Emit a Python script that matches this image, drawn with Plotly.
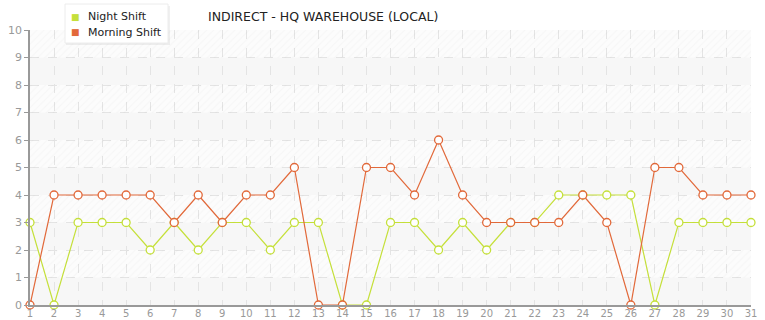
import plotly.graph_objects as go

days = list(range(1, 32))
night_shift = [3, 0, 3, 3, 3, 2, 3, 2, 3, 3, 2, 3, 3, 0, 0, 3, 3, 2, 3, 2, 3, 3, 4, 4, 4, 4, 0, 3, 3, 3, 3]
morning_shift = [0, 4, 4, 4, 4, 4, 3, 4, 3, 4, 4, 5, 0, 0, 5, 5, 4, 6, 4, 3, 3, 3, 3, 4, 3, 0, 5, 5, 4, 4, 4]
y_ticks = list(range(0, 11))
series_names = ["Night Shift", "Morning Shift"]
title_text = "INDIRECT - HQ WAREHOUSE (LOCAL)"

night_color = "#c5e03a"
morning_color = "#e2693a"
font_family = "DejaVu Sans, Verdana, sans-serif"

W, H = 765, 320
ML, MR, MT, MB = 30, 14, 30, 15
PW, PH = W - ML - MR, H - MT - MB


def px(xp):
    return (xp - ML) / PW


def py(yp):
    return (H - MB - yp) / PH


fig = go.Figure()

# hatched background bands
band_bases = [1, 3, 5, 7, 9]
fig.add_trace(go.Bar(
    x=[0.5] * len(band_bases), y=[1] * len(band_bases), base=band_bases,
    width=1, xaxis="x2", yaxis="y", showlegend=False, hoverinfo="skip",
    marker=dict(color="rgba(0,0,0,0)", line=dict(width=0),
                pattern=dict(shape="/", fgcolor="rgba(0,0,0,0.05)",
                             bgcolor="rgba(0,0,0,0)", size=5, solidity=0.2)),
))
for b in [0, 2, 4, 6, 8]:
    fig.add_shape(type="rect", xref="x domain", yref="y", x0=0, x1=1, y0=b, y1=b + 1,
                  fillcolor="#f7f7f7", line_width=0, layer="below")

for vals, name, col in [(night_shift, series_names[0], night_color),
                        (morning_shift, series_names[1], morning_color)]:
    fig.add_trace(go.Scatter(
        x=days, y=vals, mode="lines+markers", name=name, showlegend=False,
        line=dict(color=col, width=1.2), cliponaxis=False,
        marker=dict(symbol="circle", size=8, color="white", line=dict(color=col, width=1.3)),
    ))

# manual legend box (shadow + box)
fig.add_shape(type="rect", xref="paper", yref="paper",
              x0=px(66), x1=px(170), y0=py(45), y1=py(6),
              fillcolor="rgba(0,0,0,0.06)", line_width=0, layer="above")
fig.add_shape(type="rect", xref="paper", yref="paper",
              x0=px(65), x1=px(168), y0=py(43), y1=py(4),
              fillcolor="white", line=dict(color="#ececec", width=1), layer="above")

annotations = [dict(text=title_text, xref="paper", yref="paper", x=px(323), y=py(17),
                    xanchor="center", yanchor="middle", showarrow=False,
                    font=dict(family=font_family, size=12.5, color="#222"))]
for i, (name, col) in enumerate(zip(series_names, [night_color, morning_color])):
    yc = 17 + 15 * i
    annotations.append(dict(text="■", xref="paper", yref="paper", x=px(75), y=py(yc),
                            xanchor="center", yanchor="middle", showarrow=False,
                            font=dict(family=font_family, size=9, color=col)))
    annotations.append(dict(text=name, xref="paper", yref="paper", x=px(86), y=py(yc),
                            xanchor="left", yanchor="middle", showarrow=False,
                            font=dict(family=font_family, size=11, color="#222")))

fig.update_layout(
    width=W, height=H,
    margin=dict(l=ML, r=MR, t=MT, b=MB, autoexpand=False),
    paper_bgcolor="white", plot_bgcolor="#fcfcfc",
    font=dict(family=font_family, size=10, color="#999"),
    showlegend=False,
    xaxis=dict(range=[1, 31], tickmode="array", tickvals=days, ticktext=[str(d) for d in days],
               showgrid=True, gridcolor="#e4e4e4", griddash="dash", gridwidth=1,
               showline=True, linecolor="#999", linewidth=1.5, zeroline=False,
               ticks="", ticklabelstandoff=-2, automargin=False,
               tickfont=dict(size=10, color="#999")),
    xaxis2=dict(range=[0, 1], overlaying="x", visible=False),
    yaxis=dict(range=[0, 10], tickmode="array", tickvals=y_ticks,
               showgrid=True, gridcolor="#e4e4e4", griddash="dash", gridwidth=1,
               showline=True, linecolor="#999", linewidth=1.5, zeroline=False,
               ticks="outside", ticklen=4, tickcolor="#999", automargin=False,
               tickfont=dict(size=11, color="#999")),
    bargap=0,
    annotations=annotations,
)

fig.write_html("out.html")
